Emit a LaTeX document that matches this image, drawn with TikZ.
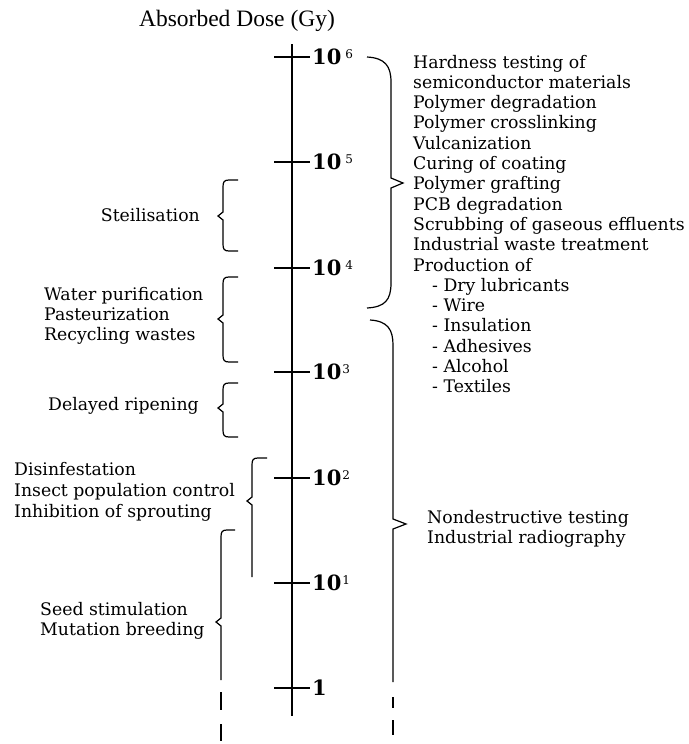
\documentclass[tikz,border=0pt]{standalone}
\usepackage{fontspec}
\setmainfont{DejaVu Serif}
\newfontfamily\titlefont{Liberation Serif}
\usetikzlibrary{positioning}

\begin{document}
\begin{tikzpicture}[x=1pt, y=-1pt,
  bline/.style={line width=1.2pt},
  txt/.style={anchor=base west, inner sep=0pt, font=\fontsize{17.3}{20}\selectfont},
  dose/.style={anchor=base west, inner sep=0pt, font=\fontsize{21}{24}\selectfont\bfseries}]

  \useasboundingbox (0,0) rectangle (688,744);

  % Title
  \node[anchor=base, inner sep=0pt, font=\titlefont\fontsize{23.5}{26}\selectfont] (title) at (237,27) {Absorbed Dose (Gy)};

  % Dose axis with one tick per decade
  \coordinate (top) at (292,44);
  \coordinate (bot) at (292,716);
  \draw[bline] (top) -- (bot);
  \foreach \e/\y/\k in {6/57/4, 5/162/4, 4/268/4, 3/372/1, 2/478/1, 1/583/1} {
    \draw[bline] (274,\y) -- (310,\y);
    \node[dose] (d\e) at (312,\y+7.7) {10\kern\k pt\raisebox{6.5pt}{\fontsize{12}{12}\mdseries\selectfont\e}};
  }
  \draw[bline] (274,688) -- (310,688);
  \node[dose] (d0) at (312,695.7) {1};

  % Right braces (industrial uses)
  \draw[bline] (367,57) .. controls (385,58) and (391,66) .. (391,82) -- (391,178) -- (403,183) -- (391,188)
    -- (391,283) .. controls (391,300) and (385,307) .. (367,308);
  \draw[bline] (370,320) .. controls (388,321) and (393,330) .. (393,345) -- (393,519) -- (406,524) -- (393,529) -- (393,682);
  \draw[bline] (393,697) -- (393,708);
  \draw[bline] (393,720) -- (393,735);

  % Left braces (food and agriculture)
  \foreach \ya/\ym/\yb in {180/216/251, 277/319/362, 383/408/437} {
    \draw[bline] (238,\ya) -- (229,\ya) .. controls (224,\ya) and (223,\ya+2) .. (223,\ya+7) -- (223,\ym-4) -- (218,\ym)
      -- (223,\ym+4) -- (223,\yb-7) .. controls (223,\yb-2) and (224,\yb) .. (229,\yb) -- (238,\yb);
  }
  \draw[bline] (267,458) -- (258,458) .. controls (253,458) and (252,460) .. (252,465) -- (252,497) -- (247,501) -- (252,505) -- (252,577);
  \draw[bline] (235,530) -- (227,530) .. controls (222,530) and (221,532) .. (221,537) -- (221,618) -- (216,622) -- (221,626) -- (221,680);
  \draw[bline] (221,692) -- (221,710);
  \draw[bline] (221,724) -- (221,741);

  % Labels on the left
  \node[txt, anchor=base east] (steril) at (200,221) {Steilisation};
  \foreach \t [count=\i from 0] in {Water purification, Pasteurization, Recycling wastes}
    \node[txt] (wat\i) at (44,300.7+20*\i) {\t};
  \node[txt] (ripen) at (48,410) {Delayed ripening};
  \foreach \t [count=\i from 0] in {Disinfestation, Insect population control, Inhibition of sprouting}
    \node[txt] (dis\i) at (14,475+21*\i) {\t};
  \foreach \t [count=\i from 0] in {Seed stimulation, Mutation breeding}
    \node[txt] (seed\i) at (40,615+20*\i) {\t};

  % Labels on the right
  \foreach \t [count=\i from 0] in {Hardness testing of, semiconductor materials, Polymer degradation,
      Polymer crosslinking, Vulcanization, Curing of coating, Polymer grafting, PCB degradation,
      Scrubbing of gaseous effluents, Industrial waste treatment, Production of}
    \node[txt] (ind\i) at (413,68+20.3*\i) {\t};
  \foreach \t [count=\i from 11] in {Dry lubricants, Wire, Insulation, Adhesives, Alcohol, Textiles}
    \node[txt] (prod\i) at (432,68+20.3*\i) {- \t};
  \foreach \t [count=\i from 0] in {Nondestructive testing, Industrial radiography}
    \node[txt] (ndt\i) at (427,523+20*\i) {\t};

\end{tikzpicture}
\end{document}
